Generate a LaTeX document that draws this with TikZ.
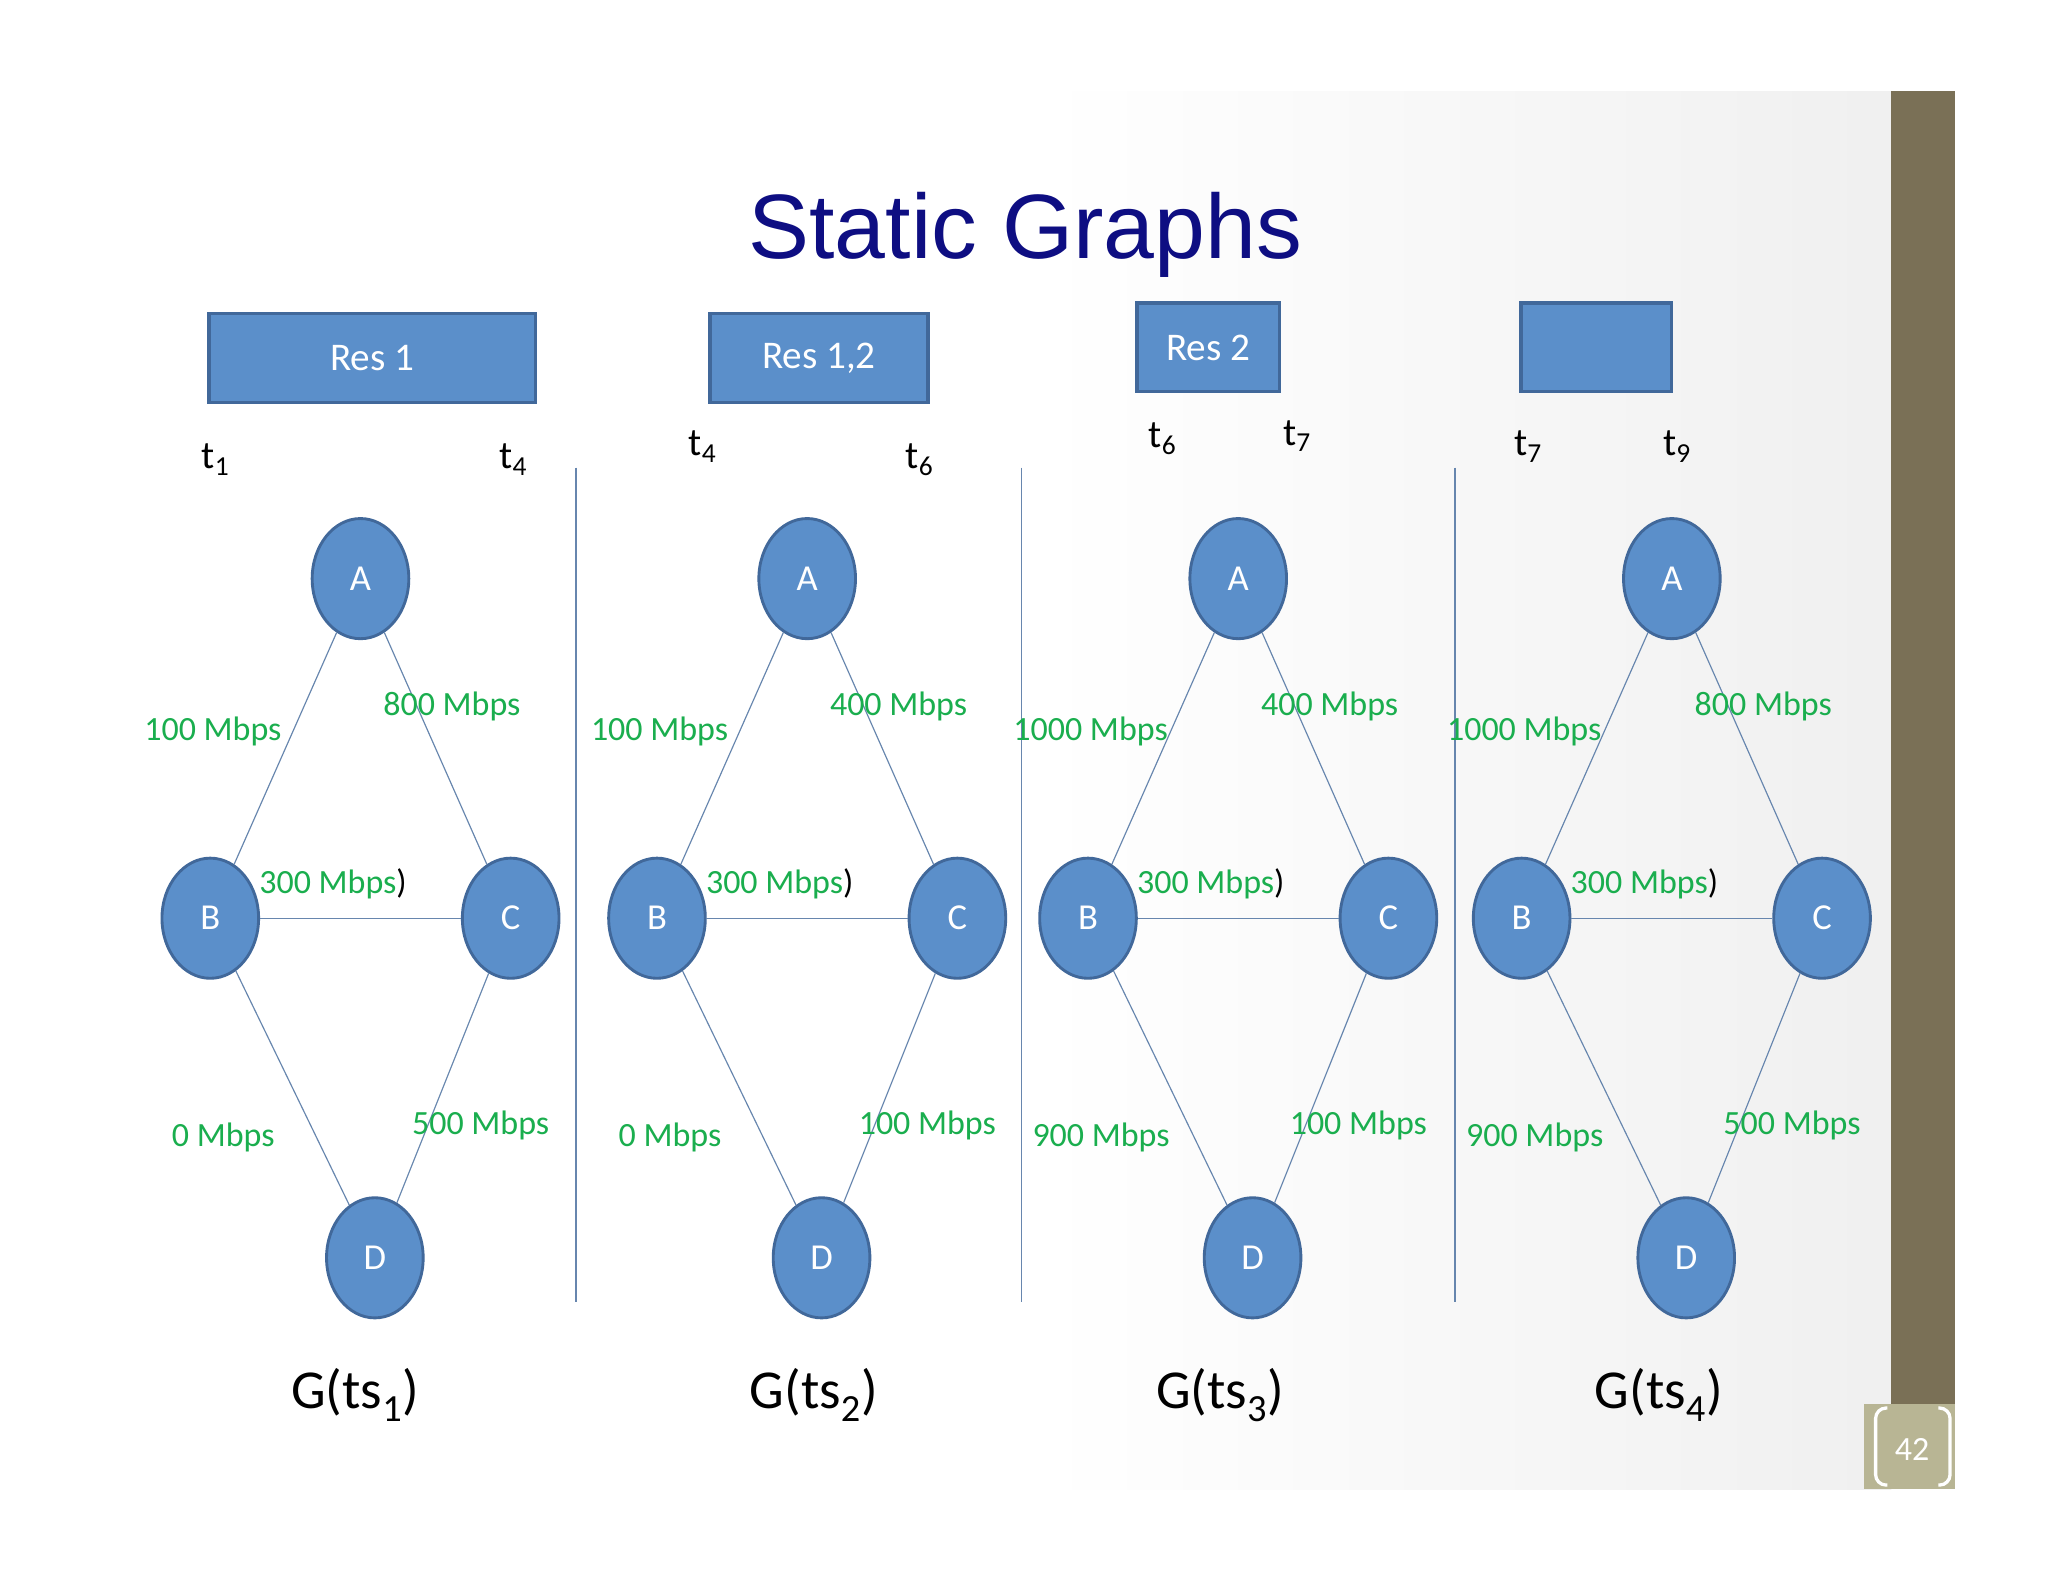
\documentclass[tikz,border=0pt]{standalone}
\usepackage{fontspec}
\setmainfont{Carlito}
\newfontfamily\tfont{Liberation Sans}
\usetikzlibrary{shapes.geometric}
\definecolor{nodef}{HTML}{5B8FCA}
\definecolor{noded}{HTML}{41689A}
\definecolor{lab}{HTML}{1AAE4E}
\definecolor{bar}{HTML}{7A7056}
\definecolor{pbox}{HTML}{B8B594}
\definecolor{navy}{HTML}{0E0E82}
\begin{document}
\begin{tikzpicture}[x=1pt,y=-1pt,
 nd/.style={ellipse,draw=noded,line width=2.2pt,fill=nodef,minimum width=74pt,minimum height=92pt,inner sep=0pt,text=white,font=\fontsize{28}{30}\selectfont},
 ed/.style={draw=noded!80,line width=0.9pt},
 lb/.style={text=lab,font=\fontsize{26}{28}\selectfont},
 tl/.style={font=\fontsize{30}{32}\selectfont},
 res/.style={draw=noded,line width=2.5pt,fill=nodef,text=white,inner sep=0pt,font=\fontsize{30}{32}\selectfont},
 sep/.style={draw=noded!80,line width=0.9pt},
 gcap/.style={font=\fontsize{42}{44}\selectfont}]
\useasboundingbox (0,0) rectangle (1568,1211);
\shade[left color=white,right color=white!88!gray,middle color=white] (150,70) rectangle (1448,1140);
\fill[bar] (1448,70) rectangle (1497,1075);
\fill[pbox] (1427,1075) rectangle (1497,1140);
\draw[white,line width=2.5pt,rounded corners=8pt] (1445,1078) -- (1436,1078) -- (1436,1137) -- (1445,1137);
\draw[white,line width=2.5pt,rounded corners=8pt] (1484,1078) -- (1493,1078) -- (1493,1137) -- (1484,1137);
\node[text=white,font=\fontsize{26}{28}\selectfont] (pn) at (1464,1110) {42};
\node[text=navy,font=\tfont\fontsize{70}{74}\selectfont] (title) at (785,180) {Static Graphs};
\node[res,minimum width=250pt,minimum height=68pt] (r1) at (285,274) {Res 1};
\node[res,minimum width=167pt,minimum height=68pt] (r2) at (627,274) {Res 1,2};
\node[res,minimum width=109pt,minimum height=68pt] (r3) at (925,266) {Res 2};
\node[res,minimum width=115pt,minimum height=68pt] (r4) at (1222,266) {};
\node[tl] (t1) at (165,352) {t\textsubscript{1}};
\node[tl] (t4a) at (393,352) {t\textsubscript{4}};
\node[tl] (t4b) at (538,342) {t\textsubscript{4}};
\node[tl] (t6a) at (704,352) {t\textsubscript{6}};
\node[tl] (t6b) at (890,336) {t\textsubscript{6}};
\node[tl] (t7a) at (993,334) {t\textsubscript{7}};
\node[tl] (t7b) at (1170,342) {t\textsubscript{7}};
\node[tl] (t9) at (1284,342) {t\textsubscript{9}};
\foreach \x/\n in {441/1,782/2,1114/3}{
 \coordinate (s\n a) at (\x,358); \coordinate (s\n b) at (\x,997);
 \draw[sep] (s\n a) -- (s\n b);}
\foreach \o/\i/\la/\lb/\lc/\ld/\cx in {0/1/100 Mbps/800 Mbps/0 Mbps/500 Mbps/272,342/2/100 Mbps/400 Mbps/0 Mbps/100 Mbps/623,672/3/1000 Mbps/400 Mbps/900 Mbps/100 Mbps/934,1004/4/1000 Mbps/800 Mbps/900 Mbps/500 Mbps/1270}{
 \begin{scope}[xshift=\o]
 \node[nd] (A\i) at (276,443) {A};
 \node[nd] (B\i) at (161,703) {B};
 \node[nd] (C\i) at (391,703) {C};
 \node[nd] (D\i) at (287,963) {D};
 \draw[ed] (A\i) -- (B\i); \draw[ed] (A\i) -- (C\i); \draw[ed] (B\i) -- (C\i);
 \draw[ed] (B\i) -- (D\i); \draw[ed] (C\i) -- (D\i);
 \node[lb] (la\i) at (163,560) {\la};
 \node[lb] (lb\i) at (346,541) {\lb};
 \node[lb] (lm\i) at (255,677) {300 Mbps\textcolor{black}{)}};
 \node[lb] (lc\i) at (171,871) {\lc};
 \node[lb] (ld\i) at (368,862) {\ld};
 \end{scope}
 \node[gcap] (g\i) at (\cx,1068) {G(ts\textsubscript{\i})};
}
\end{tikzpicture}
\end{document}
